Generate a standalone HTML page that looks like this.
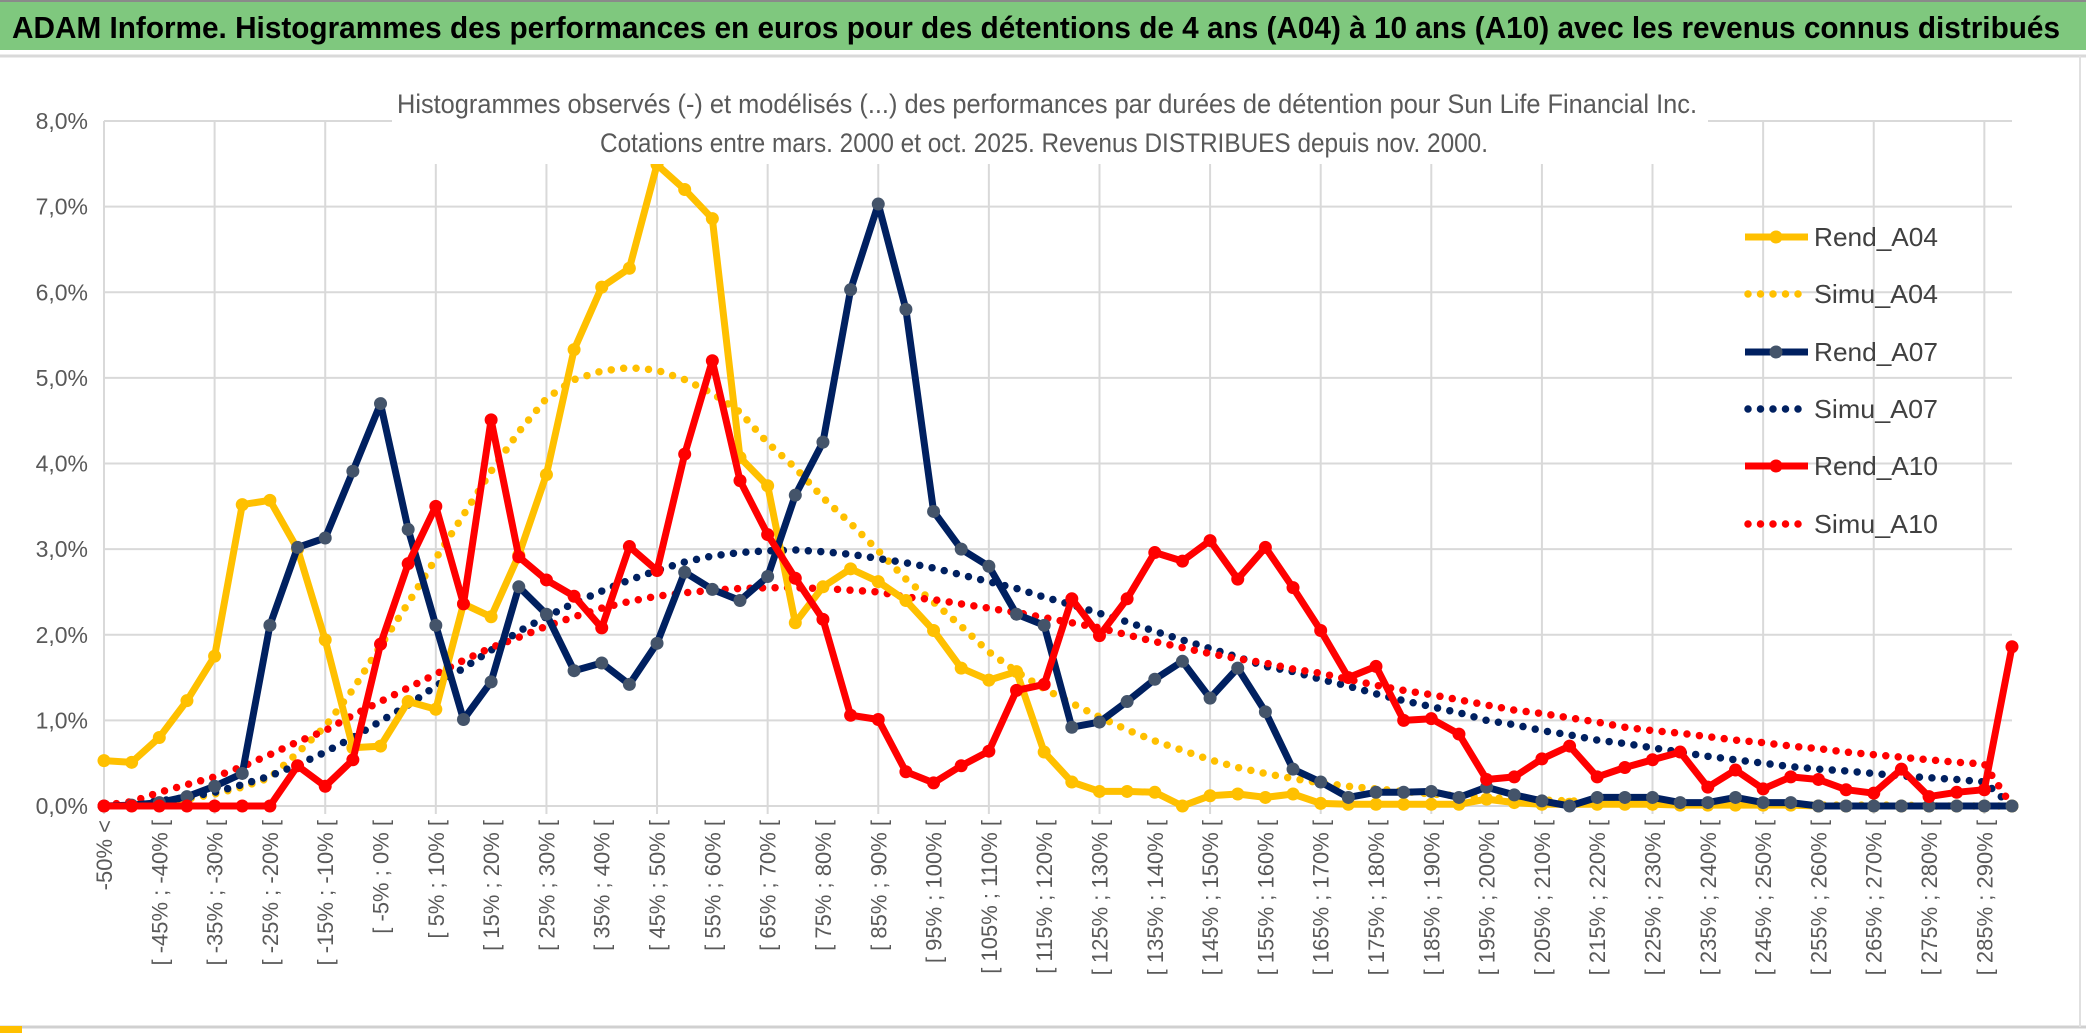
<!DOCTYPE html>
<html><head><meta charset="utf-8">
<style>
html,body{margin:0;padding:0;background:#fff;}
body{width:2086px;height:1033px;overflow:hidden;position:relative;font-family:"Liberation Sans Narrow","Liberation Sans",sans-serif;}
svg{position:absolute;left:0;top:0;}
</style></head>
<body>
<svg id="chart" width="2086" height="1033" viewBox="0 0 2086 1033">
  <rect x="0" y="0" width="2086" height="1033" fill="#ffffff"/>
  <rect x="0" y="0" width="2086" height="50" fill="#7fc87e"/>
  <line x1="0" y1="1" x2="2086" y2="1" stroke="#8a8a8a" stroke-width="2"/>
  <line x1="0" y1="56" x2="2086" y2="56" stroke="#d9d9d9" stroke-width="3"/>
  <text x="12" y="38" font-size="31" font-weight="bold" fill="#000" textLength="2048" lengthAdjust="spacingAndGlyphs">ADAM Informe. Histogrammes des performances en euros pour des détentions de 4 ans (A04) à 10 ans (A10) avec les revenus connus distribués</text>
  <g id="grid"></g>
  <g id="series"></g>
  <rect x="392" y="84" width="1316" height="80" fill="#ffffff"/>
  <text x="1047" y="113" font-size="27" fill="#595959" text-anchor="middle" textLength="1300" lengthAdjust="spacingAndGlyphs">Histogrammes observés (-) et modélisés (...) des performances par durées de détention pour Sun Life Financial Inc.</text>
  <text x="1044" y="152" font-size="27" fill="#595959" text-anchor="middle" textLength="888" lengthAdjust="spacingAndGlyphs">Cotations entre mars. 2000 et oct. 2025. Revenus DISTRIBUES depuis nov. 2000.</text>
  <g id="yaxis"></g>
  <g id="xaxis"></g>
  <g id="legend"></g>
  <line x1="0" y1="1027" x2="2086" y2="1027" stroke="#d0d0d0" stroke-width="3"/>
  <rect x="0" y="1026" width="22" height="7" fill="#ffc000"/>
  <line x1="2080" y1="56" x2="2080" y2="1027" stroke="#e0e0e0" stroke-width="2"/>
</svg>
<script>
var rendA04 = [0.53,0.51,0.80,1.23,1.75,3.52,3.57,3.00,1.94,0.68,0.70,1.22,1.13,2.36,2.21,2.93,3.87,5.33,6.06,6.28,7.49,7.20,6.86,4.07,3.74,2.14,2.56,2.77,2.62,2.40,2.05,1.61,1.47,1.57,0.63,0.28,0.17,0.17,0.16,0.00,0.12,0.14,0.10,0.14,0.03,0.02,0.02,0.02,0.02,0.02,0.08,0.04,0.02,0.02,0.02,0.02,0.02,0.01,0.01,0.01,0.01,0.01,0,0,0,0,0,0,0,0];
var simuA04 = [0.01,0.02,0.04,0.08,0.14,0.22,0.33,0.62,0.93,1.36,1.87,2.37,2.89,3.40,3.91,4.37,4.76,4.98,5.08,5.12,5.09,4.98,4.82,4.60,4.24,3.95,3.60,3.30,2.98,2.65,2.38,2.10,1.80,1.57,1.37,1.20,1.04,0.89,0.76,0.65,0.54,0.45,0.38,0.32,0.27,0.23,0.20,0.17,0.14,0.12,0.10,0.08,0.07,0.06,0.05,0.04,0.03,0.03,0.02,0.02,0.02,0.01,0.01,0.01,0.01,0.01,0,0,0,0];
var rendA07 = [0,0.01,0.04,0.11,0.23,0.38,2.11,3.02,3.13,3.91,4.70,3.23,2.11,1.01,1.45,2.56,2.24,1.58,1.67,1.42,1.90,2.73,2.53,2.40,2.68,3.63,4.25,6.03,7.03,5.80,3.44,3.00,2.80,2.24,2.11,0.92,0.98,1.22,1.48,1.69,1.26,1.61,1.10,0.43,0.28,0.10,0.16,0.16,0.17,0.10,0.22,0.13,0.06,0,0.10,0.10,0.10,0.04,0.04,0.10,0.04,0.04,0,0,0,0,0,0,0,0];
var simuA07 = [0.01,0.03,0.06,0.10,0.16,0.25,0.35,0.48,0.63,0.80,0.99,1.18,1.40,1.61,1.82,2.04,2.21,2.37,2.51,2.64,2.75,2.85,2.92,2.96,2.98,2.99,2.97,2.94,2.89,2.84,2.78,2.70,2.62,2.54,2.44,2.35,2.25,2.15,2.04,1.94,1.84,1.74,1.63,1.57,1.48,1.40,1.31,1.23,1.16,1.09,1.00,0.95,0.88,0.83,0.77,0.73,0.68,0.63,0.58,0.54,0.50,0.46,0.43,0.41,0.38,0.35,0.33,0.31,0.28,0];
var rendA10 = [0,0,0,0,0,0,0,0.47,0.23,0.54,1.89,2.83,3.50,2.36,4.51,2.91,2.64,2.45,2.08,3.03,2.75,4.11,5.20,3.80,3.17,2.66,2.18,1.06,1.01,0.40,0.27,0.47,0.64,1.35,1.42,2.42,1.99,2.42,2.96,2.86,3.10,2.65,3.02,2.55,2.05,1.50,1.63,1.00,1.02,0.84,0.31,0.34,0.55,0.70,0.34,0.45,0.54,0.63,0.22,0.42,0.20,0.34,0.31,0.19,0.15,0.43,0.11,0.16,0.19,1.86];
var simuA10 = [0.01,0.05,0.16,0.25,0.34,0.46,0.60,0.75,0.88,1.06,1.22,1.38,1.54,1.70,1.85,1.97,2.10,2.21,2.31,2.39,2.45,2.49,2.52,2.54,2.55,2.55,2.54,2.52,2.50,2.44,2.41,2.36,2.31,2.26,2.20,2.14,2.08,2.00,1.92,1.85,1.78,1.72,1.67,1.60,1.55,1.48,1.41,1.35,1.30,1.24,1.18,1.12,1.08,1.03,0.98,0.92,0.88,0.85,0.81,0.77,0.74,0.70,0.67,0.63,0.60,0.57,0.54,0.51,0.49,0];
var yTicks = [0,1,2,3,4,5,6,7,8];
var yTickLabels = ["0,0%","1,0%","2,0%","3,0%","4,0%","5,0%","6,0%","7,0%","8,0%"];
var seriesNames = ["Rend_A04","Simu_A04","Rend_A07","Simu_A07","Rend_A10","Simu_A10"];
var categories = [];
categories.push("-50% <");
for (var k = 1; k < 70; k++) { var lo = -55 + 5*k; categories.push("[ " + lo + "% ; " + (lo+5) + "% ["); }

var NS = "http://www.w3.org/2000/svg";
var X0 = 104, X1 = 2012, Y0 = 806, Y8 = 121;
function xScale(i){ return X0 + (X1 - X0) * i / (categories.length - 1); }
function yScale(v){ return Y0 - (Y0 - Y8) * v / 8; }
function mk(tag, attrs, parent){ var e = document.createElementNS(NS, tag); for (var a in attrs) e.setAttribute(a, attrs[a]); parent.appendChild(e); return e; }

var grid = document.getElementById('grid');
yTicks.forEach(function(t){
  var l = mk('line', {x1: X0, x2: X1, y1: yScale(t), y2: yScale(t), stroke: '#d9d9d9', 'stroke-width': 2}, grid);
  
  
});
for (var i = 0; i < categories.length; i += 4) {
  var l = mk('line', {x1: xScale(i), x2: xScale(i), y1: Y8, y2: Y0 + 8, stroke: '#d9d9d9', 'stroke-width': 2}, grid);
  
  
}

var yaxis = document.getElementById('yaxis');
yTicks.forEach(function(t, j){
  var tx = mk('text', {x: 88, y: yScale(t) + 8, 'font-size': 23, fill: '#595959', 'text-anchor': 'end'}, yaxis);
  tx.textContent = yTickLabels[j];
  
  
});

var xaxis = document.getElementById('xaxis');
for (var i = 0; i < categories.length; i += 2) {
  var x = xScale(i) + 8, y = 820;
  var tx = mk('text', {x: x, y: y, 'font-size': 22, fill: '#595959', 'text-anchor': 'end', transform: 'rotate(-90 ' + x + ' ' + y + ')', 'font-family': '"Liberation Sans", sans-serif'}, xaxis);
  tx.textContent = categories[i];
  
  
}

var seriesG = document.getElementById('series');
function pathFor(arr){ return arr.map(function(v, i){ return (i ? 'L' : 'M') + xScale(i).toFixed(1) + ' ' + yScale(v).toFixed(1); }).join(' '); }
function drawDotted(arr, color, name){
  var p = mk('path', {d: pathFor(arr), fill: 'none', stroke: color, 'stroke-width': 7.5, 'stroke-linecap': 'round', 'stroke-dasharray': '0 12.5'}, seriesG);
  
  
}
function drawSolid(arr, color, mcolor, name){
  var p = mk('path', {d: pathFor(arr), fill: 'none', stroke: color, 'stroke-width': 7, 'stroke-linejoin': 'round'}, seriesG);
  
  
  arr.forEach(function(v, i){
    var c = mk('circle', {cx: xScale(i), cy: yScale(v), r: 6.5, fill: mcolor}, seriesG);
    
    
  });
}
drawDotted(simuA04, '#ffc000', 'simu-a04-line');
drawDotted(simuA07, '#002060', 'simu-a07-line');
drawDotted(simuA10, '#ff0000', 'simu-a10-line');
drawSolid(rendA04, '#ffc000', '#ffc000', 'rend-a04-line');
drawSolid(rendA07, '#002060', '#44546a', 'rend-a07-line');
drawSolid(rendA10, '#ff0000', '#ff0000', 'rend-a10-line');

var legend = document.getElementById('legend');
var legColors = ['#ffc000','#ffc000','#002060','#002060','#ff0000','#ff0000'];
var legY = [237, 294, 352, 409, 466, 524];
seriesNames.forEach(function(n, j){
  var dotted = n.indexOf('Simu') === 0;
  var g = mk('g', {}, legend);
  
  
  if (dotted) {
    mk('line', {x1: 1748, x2: 1806, y1: legY[j], y2: legY[j], stroke: legColors[j], 'stroke-width': 7.5, 'stroke-linecap': 'round', 'stroke-dasharray': '0 12.5'}, g);
  } else {
    mk('line', {x1: 1745, x2: 1808, y1: legY[j], y2: legY[j], stroke: legColors[j], 'stroke-width': 7}, g);
    mk('circle', {cx: 1776, cy: legY[j], r: 6.5, fill: j === 2 ? '#44546a' : legColors[j]}, g);
  }
  var t = mk('text', {x: 1814, y: legY[j] + 9, 'font-size': 26, fill: '#404040', textLength: 124, lengthAdjust: 'spacingAndGlyphs'}, g);
  t.textContent = n;
});
</script>
</body></html>
